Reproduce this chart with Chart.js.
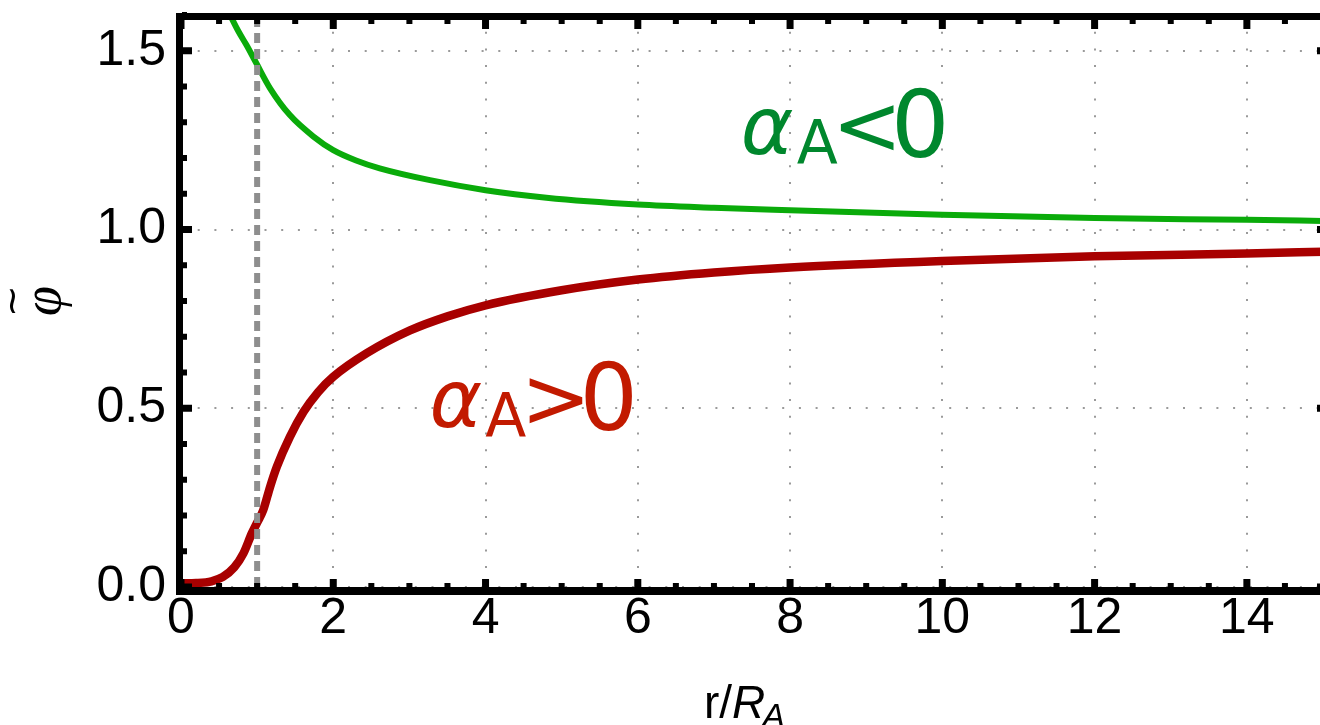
<!DOCTYPE html>
<html><head><meta charset="utf-8">
<script src="https://cdn.jsdelivr.net/npm/chart.js@4.4.1/dist/chart.umd.min.js"></script>
<style>
html,body{margin:0;padding:0;background:#fff;overflow:hidden;width:1320px;height:725px}
#wrap{width:1323px;height:725px;position:relative}
</style></head>
<body><div id="wrap"><canvas id="c" width="1323" height="725"></canvas></div>
<script>
// ---- data ----
const greenX = [0.645, 0.75, 0.86, 0.99, 1.17, 1.43, 1.74, 2.0, 2.3, 2.61, 3.27, 4.0, 4.8, 6.0, 7.0, 8.0, 10.0, 12.0, 14.0, 15.0];
const greenY = [1.60, 1.556, 1.516, 1.465, 1.395, 1.32, 1.26, 1.222, 1.193, 1.171, 1.138, 1.11, 1.089, 1.07, 1.061, 1.054, 1.041, 1.032, 1.027, 1.024];
const redX = [0, 0.2, 0.4, 0.55, 0.7, 0.82, 0.93, 1.0, 1.08, 1.17, 1.26, 1.43, 1.61, 1.8, 2.0, 2.44, 3.0, 3.5, 4.0, 5.0, 6.0, 7.0, 8.0, 10.0, 12.0, 14.0, 15.0];
const redY = [0.01, 0.011, 0.016, 0.028, 0.055, 0.094, 0.15, 0.18, 0.215, 0.28, 0.337, 0.42, 0.49, 0.545, 0.588, 0.654, 0.717, 0.757, 0.788, 0.83, 0.86, 0.88, 0.894, 0.912, 0.925, 0.933, 0.938];
const markerX = [1, 1];
const markerY = [0, 1.6];
const xTicks = [0, 2, 4, 6, 8, 10, 12, 14];
const xTickLabels = ['0', '2', '4', '6', '8', '10', '12', '14'];
const yTicks = [0, 0.5, 1.0, 1.5];
const yTickLabels = ['0.0', '0.5', '1.0', '1.5'];
const xRange = [0, 15];
const yRange = [0, 1.6];
const labelNeg = {text: ['\u03B1', 'A', '<', '0'], x: 7.70, y: 1.203};
const labelPos = {text: ['\u03B1', 'A', '>', '0'], x: 3.61, y: 0.439};

const toPts = (xs, ys) => xs.map((v, i) => ({x: v, y: ys[i]}));

const framePlugin = {
  id: 'frame',
  afterDatasetsDraw(chart) {
    const {ctx, chartArea: a, scales: {x, y}} = chart;
    ctx.save();
    ctx.fillStyle = '#000';
    const W = a.right - a.left;
    ctx.fillRect(a.left - 5, a.top - 2, W + 10, 7);       // top
    ctx.fillRect(a.left - 5, a.bottom, W + 10, 8);        // bottom
    ctx.fillRect(a.left - 5, a.top - 2, 7, a.bottom - a.top + 10); // left
    for (let k = 0; k <= 30; k++) {
      const v = k * 0.5;
      const px = x.getPixelForValue(v);
      const major = k % 4 === 0;
      if (major) {
        ctx.fillRect(px - 3.5, a.bottom - 8, 7, 9);
        ctx.fillRect(px - 3.5, a.top + 4, 7, 10);
      } else {
        ctx.fillRect(px - 3, a.bottom - 4, 6, 5);
        ctx.fillRect(px - 3, a.top + 4, 6, 5);
      }
    }
    for (let k = 0; k <= 16; k++) {
      const v = k * 0.1;
      const py = y.getPixelForValue(v);
      const major = k % 5 === 0;
      if (major) {
        ctx.fillRect(a.left + 1, py - 3.5, 10, 7);
        ctx.fillRect(a.right - 6, py - 3.5, 8, 7);
      } else {
        ctx.fillRect(a.left + 1, py - 3, 5, 6);
      }
    }
    // annotations
    const drawLab = (lab, color) => {
      const cx = x.getPixelForValue(lab.x), by = y.getPixelForValue(lab.y);
      ctx.fillStyle = color;
      ctx.textAlign = 'center';
      ctx.textBaseline = 'alphabetic';
      ctx.font = 'italic 80px "DejaVu Sans"';
      ctx.fillText(lab.text[0], cx, by - 3);
      ctx.font = '60px "DejaVu Sans"';
      ctx.fillText(lab.text[1], cx + 50, by + 6);
      ctx.font = '84px "DejaVu Sans"';
      ctx.fillText(lab.text[2], cx + 100, by - 3);
      ctx.font = '92px "DejaVu Sans"';
      ctx.fillText(lab.text[3], cx + 153, by);
    };
    drawLab(labelNeg, '#00872d');
    drawLab(labelPos, '#c21a00');
    // axis titles
    ctx.fillStyle = '#000';
    ctx.textAlign = 'left';
    ctx.textBaseline = 'alphabetic';
    const tx = (a.left + a.right) / 2 - 48;
    ctx.font = '46px "Liberation Sans"';
    ctx.fillText('r/', tx, 718);
    let w = ctx.measureText('r/').width;
    ctx.font = 'italic 46px "Liberation Sans"';
    ctx.fillText('R', tx + w, 718);
    w += ctx.measureText('R').width;
    ctx.font = 'italic 34px "Liberation Sans"';
    ctx.fillText('A', tx + w - 3, 727);
    // y title rotated
    ctx.save();
    ctx.translate(60, (a.top + a.bottom) / 2);
    ctx.rotate(-Math.PI / 2);
    ctx.textAlign = 'center';
    ctx.font = 'italic 54px "Liberation Serif"';
    ctx.fillText('\u03C6', 0, 0);
    ctx.font = '38px "DejaVu Sans"';
    ctx.fillText('~', 0, -36);
    ctx.restore();
    ctx.restore();
  }
};

new Chart(document.getElementById('c'), {
  type: 'line',
  data: {
    datasets: [
      {data: toPts(markerX, markerY), borderColor: '#8e8e8e', borderWidth: 6, borderDash: [10, 6], pointRadius: 0, borderCapStyle: 'butt'},
      {data: toPts(greenX, greenY), borderColor: '#0aab0a', borderWidth: 6, pointRadius: 0, cubicInterpolationMode: 'monotone'},
      {data: toPts(redX, redY), borderColor: '#a80000', borderWidth: 8.5, pointRadius: 0, cubicInterpolationMode: 'monotone'}
    ]
  },
  options: {
    responsive: false,
    animation: false,
    devicePixelRatio: 1,
    layout: {padding: {top: 15, right: 0, left: 0, bottom: 0}},
    plugins: {legend: {display: false}, tooltip: {enabled: false}},
    scales: {
      x: {
        type: 'linear', min: xRange[0], max: xRange[1],
        afterBuildTicks: s => { s.ticks = xTicks.map(v => ({value: v})); },
        afterFit: s => { s.height = 138; s.paddingLeft = 0; s.paddingRight = 0; s.paddingTop = 0; s.paddingBottom = 0; },
        ticks: {
          callback: v => { const i = xTicks.findIndex(t => Math.abs(t - v) < 1e-6); return i >= 0 ? xTickLabels[i] : ''; },
          font: {family: 'Liberation Sans', size: 50}, color: '#000', padding: 2, maxRotation: 0, autoSkip: false
        },
        grid: {color: '#9a9a9a', lineWidth: 2, drawTicks: false},
        border: {display: false, dash: [2, 14.7]}
      },
      y: {
        type: 'linear', min: yRange[0], max: yRange[1],
        afterBuildTicks: s => { s.ticks = yTicks.map(v => ({value: v})); },
        afterFit: s => { s.width = 181; s.paddingLeft = 0; s.paddingRight = 0; s.paddingTop = 0; s.paddingBottom = 0; },
        ticks: {
          callback: v => { const i = yTicks.findIndex(t => Math.abs(t - v) < 1e-6); return i >= 0 ? yTickLabels[i] : ''; },
          font: {family: 'Liberation Sans', size: 50}, color: '#000', padding: 15
        },
        grid: {color: '#9a9a9a', lineWidth: 2, drawTicks: false},
        border: {display: false, dash: [2, 14.7]}
      }
    }
  },
  plugins: [framePlugin]
});
</script>
</body></html>
